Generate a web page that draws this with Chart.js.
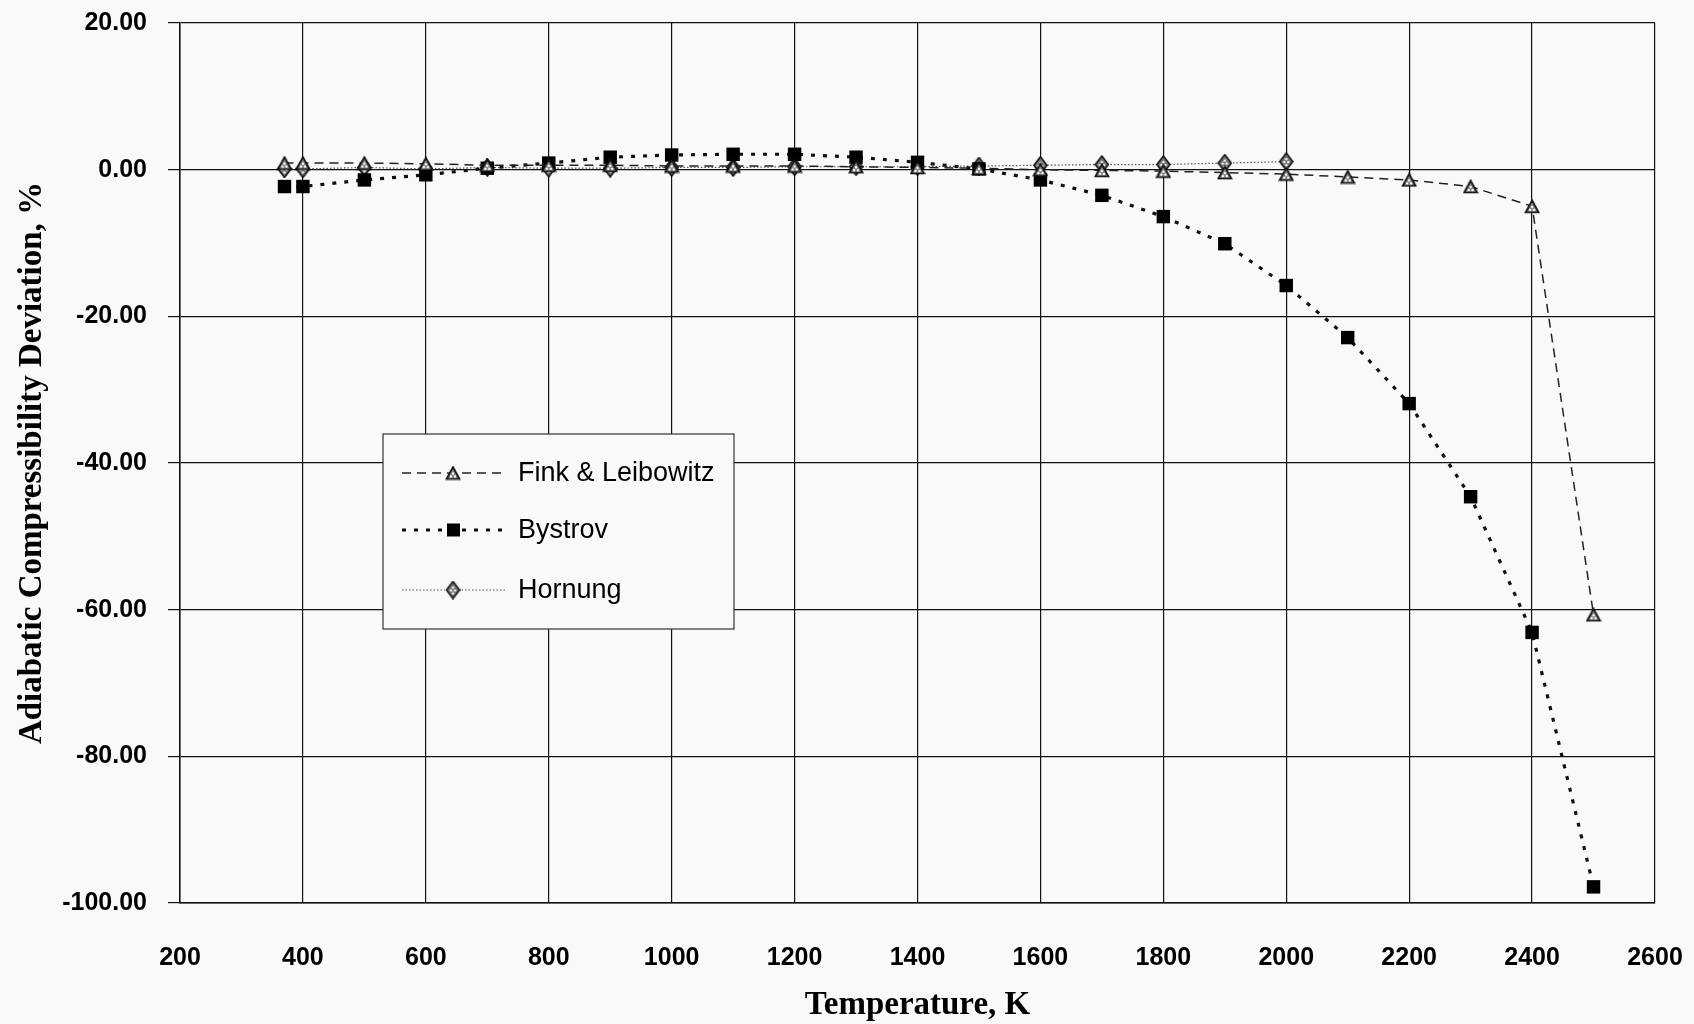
<!DOCTYPE html>
<html lang="en">
<head>
    <meta charset="UTF-8">
    <title>Adiabatic Compressibility Deviation</title>
    <script src="https://cdn.jsdelivr.net/npm/chart.js"></script>
    <style>
        body { margin: 0; background: #f9f9f9; }
        canvas { display: block; }
    </style>
</head>
<body>
    <canvas id="myChart" width="1694" height="1024"></canvas>

    <script>
        // temperatures, K
        const temps = [370, 400, 500, 600, 700, 800, 900, 1000, 1100, 1200, 1300, 1400,
                       1500, 1600, 1700, 1800, 1900, 2000, 2100, 2200, 2300, 2400, 2500];
        // deviations, %
        const finkDev = [0.9, 0.9, 0.9, 0.8, 0.6, 0.6, 0.6, 0.5, 0.5, 0.5, 0.4, 0.3,
                         0.2, 0.0, -0.1, -0.2, -0.4, -0.6, -1.0, -1.4, -2.3, -5.0, -60.7];
        const bystrovDev = [-2.3, -2.3, -1.4, -0.7, 0.2, 0.9, 1.7, 2.0, 2.1, 2.1, 1.7, 1.0,
                            0.1, -1.4, -3.5, -6.4, -10.1, -15.8, -22.9, -31.9, -44.6, -63.1, -97.8];
        const hornungDev = [0.1, 0.1, 0.3, 0.1, 0.3, 0.2, 0.2, 0.3, 0.3, 0.4, 0.4, 0.4,
                            0.5, 0.6, 0.7, 0.7, 0.9, 1.1];
        const seriesNames = ['Fink & Leibowitz', 'Bystrov', 'Hornung'];

        function toPoints(ys) {
            return ys.map((y, i) => ({ x: temps[i], y: y }));
        }

        function makeTriangle() {
            const c = document.createElement('canvas');
            c.width = 16; c.height = 15;
            const g = c.getContext('2d');
            g.beginPath();
            g.moveTo(8, 1.5); g.lineTo(14.5, 13.5); g.lineTo(1.5, 13.5); g.closePath();
            g.fillStyle = '#8a8a8a'; g.fill();
            g.fillStyle = '#fff';
            g.fillRect(7, 7, 2, 2); g.fillRect(5, 10, 2, 2); g.fillRect(9, 10, 2, 2);
            g.lineWidth = 1.7; g.strokeStyle = '#111'; g.stroke();
            return c;
        }

        function makeDiamond() {
            const c = document.createElement('canvas');
            c.width = 15; c.height = 19;
            const g = c.getContext('2d');
            g.beginPath();
            g.moveTo(7.5, 1); g.lineTo(14, 9.5); g.lineTo(7.5, 18); g.lineTo(1, 9.5); g.closePath();
            g.fillStyle = '#7a7a7a'; g.fill();
            g.fillStyle = '#fff';
            g.fillRect(6.5, 6, 2, 2); g.fillRect(4.5, 9, 2, 2); g.fillRect(8.5, 9, 2, 2); g.fillRect(6.5, 12, 2, 2);
            g.lineWidth = 1.6; g.strokeStyle = '#111'; g.stroke();
            return c;
        }

        const triMark = makeTriangle();
        const diaMark = makeDiamond();

        const styles = [
            { dash: [9, 6], width: 1.5, color: '#222', mark: triMark },
            { dash: [4, 8], width: 3.2, color: '#111', mark: null },
            { dash: [1.5, 2], width: 1.2, color: '#555', mark: diaMark }
        ];

        // legend box drawn inside the plot
        const boxLegend = {
            id: 'boxLegend',
            afterDraw(chart) {
                const ctx = chart.ctx;
                const bx = 383, by = 434, bw = 351, bh = 195;
                ctx.save();
                ctx.fillStyle = '#f9f9f9';
                ctx.fillRect(bx, by, bw, bh);
                ctx.strokeStyle = '#333';
                ctx.lineWidth = 1.2;
                ctx.strokeRect(bx, by, bw, bh);
                const rows = [473, 530, 590];
                ctx.font = '27px Arial, "Liberation Sans", sans-serif';
                ctx.textBaseline = 'middle';
                ctx.textAlign = 'left';
                rows.forEach((ry, i) => {
                    const s = styles[i];
                    ctx.beginPath();
                    ctx.setLineDash(s.dash);
                    ctx.lineWidth = s.width;
                    ctx.strokeStyle = s.color;
                    ctx.moveTo(402, ry); ctx.lineTo(505, ry);
                    ctx.stroke();
                    ctx.setLineDash([]);
                    if (s.mark) {
                        ctx.drawImage(s.mark, 453 - s.mark.width / 2, ry - s.mark.height / 2);
                    } else {
                        ctx.fillStyle = '#000';
                        ctx.fillRect(447, ry - 6.5, 13, 13);
                    }
                    ctx.fillStyle = '#000';
                    ctx.fillText(seriesNames[i], 518, ry + 1);
                });
                ctx.restore();
            }
        };

        const ctx = document.getElementById('myChart').getContext('2d');
        const myChart = new Chart(ctx, {
            type: 'line',
            data: {
                datasets: [
                    {
                        label: seriesNames[0],
                        data: toPoints(finkDev),
                        borderColor: styles[0].color,
                        borderWidth: styles[0].width,
                        borderDash: styles[0].dash,
                        pointStyle: triMark,
                        tension: 0
                    },
                    {
                        label: seriesNames[1],
                        data: toPoints(bystrovDev),
                        borderColor: styles[1].color,
                        borderWidth: styles[1].width,
                        borderDash: styles[1].dash,
                        pointStyle: 'rect',
                        pointRadius: 9.5,
                        pointBackgroundColor: '#000',
                        pointBorderColor: '#000',
                        pointBorderWidth: 0,
                        tension: 0
                    },
                    {
                        label: seriesNames[2],
                        data: toPoints(hornungDev),
                        borderColor: styles[2].color,
                        borderWidth: styles[2].width,
                        borderDash: styles[2].dash,
                        pointStyle: diaMark,
                        tension: 0
                    }
                ]
            },
            options: {
                responsive: false,
                animation: false,
                layout: { padding: { top: 23, right: 39, left: 0, bottom: 0 } },
                plugins: {
                    legend: { display: false },
                    tooltip: { enabled: false }
                },
                scales: {
                    x: {
                        type: 'linear',
                        min: 200,
                        max: 2600,
                        afterFit(scale) {
                            scale.height = 121;
                            scale.paddingLeft = 0;
                            scale.paddingRight = 0;
                        },
                        ticks: {
                            stepSize: 200,
                            color: '#000',
                            padding: 40,
                            callback: v => String(v),
                            font: { family: 'Arial, "Liberation Sans", sans-serif', size: 25, weight: 'bold' }
                        },
                        grid: { color: '#111', lineWidth: 1.2, drawTicks: false },
                        border: { color: '#111', width: 1.5 },
                        title: {
                            display: true,
                            text: 'Temperature, K',
                            color: '#000',
                            padding: { top: 0, bottom: 0 },
                            font: { family: '"Liberation Serif", "Times New Roman", serif', size: 33, weight: 'bold', lineHeight: 1.1 }
                        }
                    },
                    y: {
                        min: -100,
                        max: 20,
                        afterFit(scale) {
                            scale.width = 180;
                            scale.paddingTop = 0;
                            scale.paddingBottom = 0;
                        },
                        ticks: {
                            stepSize: 20,
                            color: '#000',
                            padding: 21,
                            callback: v => v.toFixed(2),
                            font: { family: 'Arial, "Liberation Sans", sans-serif', size: 25, weight: 'bold' }
                        },
                        grid: { color: '#111', lineWidth: 1.2, tickLength: 12 },
                        border: { color: '#111', width: 1.5 },
                        title: {
                            display: true,
                            text: 'Adiabatic Compressibility Deviation, %',
                            color: '#000',
                            padding: { top: 14, bottom: 0 },
                            font: { family: '"Liberation Serif", "Times New Roman", serif', size: 33, weight: 'bold', lineHeight: 1.1 }
                        }
                    }
                }
            },
            plugins: [boxLegend]
        });
    </script>
</body>
</html>
